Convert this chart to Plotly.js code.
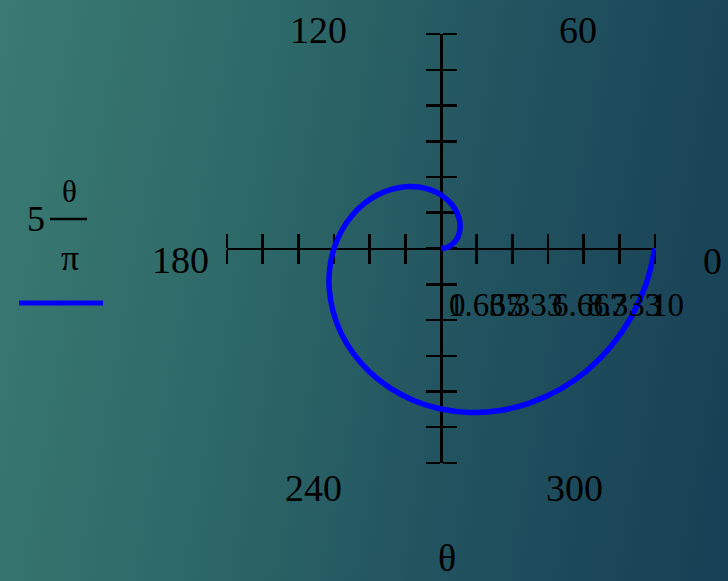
<!DOCTYPE html>
<html>
<head>
<meta charset="utf-8">
<script src="https://cdn.plot.ly/plotly-3.0.1.min.js"></script>
<style>
html,body{margin:0;padding:0;width:728px;height:581px;overflow:hidden;}
body{background:linear-gradient(100deg,#3b7a72 0%,#2d6868 35%,#21525f 65%,#173f55 100%);}
#plot{width:728px;height:581px;}
</style>
</head>
<body>
<div id="plot"></div>
<script>
// Curve samples: theta in degrees, r = 5*theta/pi
const thetaDeg = [0,10,20,30,40,50,60,70,80,90,100,110,120,130,140,150,160,170,180,
  190,200,210,220,230,240,250,260,270,280,290,300,310,320,330,340,350,360];
const rVals = [0,0.278,0.556,0.833,1.111,1.389,1.667,1.944,2.222,2.5,2.778,3.056,3.333,
  3.611,3.889,4.167,4.444,4.722,5,5.278,5.556,5.833,6.111,6.389,6.667,6.944,7.222,7.5,
  7.778,8.056,8.333,8.611,8.889,9.167,9.444,9.722,10];
// axis ticks (every 10/6)
const tickVals = [-10,-8.333,-6.667,-5,-3.333,-1.667,0,1.667,3.333,5,6.667,8.333,10];
// radial tick labels (overlapping, as drawn)
const radialLabels = ["0","1.667","3.333","5","6.667","8.333","10"];
const radialLabelX = [0.30,0.22,2.13,2.97,5.07,6.71,9.72];
// angle labels
const angleLabels = ["0","60","120","180","240","300"];
const angleLabelPos = [[712,261],[578,30],[318,30],[180,260],[313,488],[574,488]];

const W = 728, H = 581;
const dx = [227/W, 655/W];
const dy = [(H-463)/H, (H-34)/H];
const midX = (dx[0]+dx[1])/2, midY = (dy[0]+dy[1])/2;
const serif = "Liberation Serif, Times New Roman, serif";

const axBase = {
  range:[-10,10], showgrid:false, zeroline:false, showticklabels:false,
  showline:true, linecolor:'black', linewidth:2.5, tickmode:'array', tickvals:tickVals,
  ticks:'outside', ticklen:14, tickwidth:2.5, tickcolor:'black', fixedrange:true
};
function ax(extra){ return Object.assign({}, axBase, extra); }

const traces = [
  {type:'scatter', x:[], y:[], xaxis:'x', yaxis:'y', hoverinfo:'skip', showlegend:false},
  {type:'scatter', x:[], y:[], xaxis:'x2', yaxis:'y2', hoverinfo:'skip', showlegend:false},
  {type:'scatterpolar', r:rVals, theta:thetaDeg, mode:'lines',
   line:{color:'#0000ff', width:5.5, shape:'spline'}, hoverinfo:'skip', showlegend:false}
];

const annotations = [];
radialLabels.forEach((t,i)=>{
  annotations.push({text:t, xref:'x', yref:'paper', x:radialLabelX[i], y:(H-305)/H,
    xanchor:'left', yanchor:'middle', showarrow:false,
    font:{family:serif, size:33, color:'black'}});
});
angleLabels.forEach((t,i)=>{
  annotations.push({text:t, xref:'paper', yref:'paper', x:angleLabelPos[i][0]/W,
    y:(H-angleLabelPos[i][1])/H, xanchor:'center', yanchor:'middle', showarrow:false,
    font:{family:serif, size:38, color:'black'}});
});
annotations.push({text:'θ', xref:'paper', yref:'paper', x:447/W, y:0,
  xanchor:'center', yanchor:'bottom', showarrow:false, font:{family:serif, size:38, color:'black'}});
// legend expression 5·θ/π
annotations.push({text:'5', xref:'paper', yref:'paper', x:36/W, y:(H-219)/H,
  xanchor:'center', yanchor:'middle', showarrow:false, font:{family:serif, size:36, color:'black'}});
annotations.push({text:'θ', xref:'paper', yref:'paper', x:69/W, y:(H-192)/H,
  xanchor:'center', yanchor:'middle', showarrow:false, font:{family:serif, size:31, color:'black'}});
annotations.push({text:'π', xref:'paper', yref:'paper', x:70/W, y:(H-258)/H,
  xanchor:'center', yanchor:'middle', showarrow:false, font:{family:serif, size:36, color:'black'}});

const shapes = [
  {type:'line', xref:'paper', yref:'paper', x0:50/W, x1:87/W, y0:(H-219)/H, y1:(H-219)/H,
   line:{color:'black', width:2.5}},
  {type:'line', xref:'paper', yref:'paper', x0:19/W, x1:103/W, y0:(H-303)/H, y1:(H-303)/H,
   line:{color:'#0000ff', width:5}}
];

const layout = {
  width:W, height:H, margin:{l:0,r:0,t:0,b:0},
  paper_bgcolor:'rgba(0,0,0,0)', plot_bgcolor:'rgba(0,0,0,0)', showlegend:false,
  xaxis: ax({domain:dx, anchor:'free', position:midY, side:'bottom'}),
  xaxis2: ax({overlaying:'x', anchor:'free', position:midY, side:'top'}),
  yaxis: ax({domain:dy, anchor:'free', position:midX, side:'left'}),
  yaxis2: ax({overlaying:'y', anchor:'free', position:midX, side:'right'}),
  polar:{domain:{x:dx, y:dy}, bgcolor:'rgba(0,0,0,0)',
    radialaxis:{range:[0,10], visible:false},
    angularaxis:{visible:false, rotation:0, direction:'counterclockwise'}},
  annotations:annotations, shapes:shapes
};

Plotly.newPlot('plot', traces, layout, {displayModeBar:false, staticPlot:true});
</script>
</body>
</html>
